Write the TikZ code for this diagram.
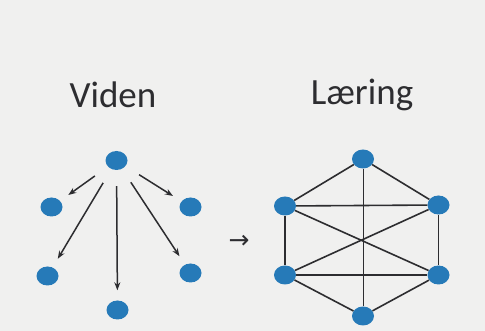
\documentclass[tikz,border=0pt]{standalone}
\usepackage{fontspec}
\setmainfont{Carlito}
\newfontfamily\arrowfont{DejaVu Sans}
\usetikzlibrary{arrows.meta,shapes.geometric}
\definecolor{paper}{RGB}{240,240,239}
\definecolor{dotblue}{RGB}{38,122,184}
\definecolor{ink}{RGB}{45,45,48}
\begin{document}
\begin{tikzpicture}[x=1pt,y=-1pt,
  dot/.style={ellipse,fill=dotblue,minimum width=22pt,minimum height=19pt,inner sep=0pt},
  title/.style={font=\fontsize{37}{40}\selectfont,text=ink},
  push/.style={draw=ink,line width=1.5pt,-{Stealth[length=8pt,width=6pt]},shorten <=16pt,shorten >=10pt},
  link/.style={draw=ink,line width=1.6pt},
  thin/.style={draw=ink,line width=0.8pt}]
  \fill[paper] (0,0) rectangle (485,331);
  \useasboundingbox (0,0) rectangle (485,331);

  % headings
  \node[title] (viden) at (113,95) {Viden};
  \node[title] (laering) at (362,95) {Læring};

  % knowledge: one source pushing to five receivers
  \node[dot] (s)  at (116.5,160.5) {};
  \node[dot] (a1) at (51.5,207) {};
  \node[dot] (a2) at (190.5,207) {};
  \node[dot] (a3) at (47.5,276) {};
  \node[dot] (a4) at (190.5,273) {};
  \node[dot] (a5) at (117.5,310) {};
  \draw[push] (s) -- (a1);
  \draw[push] (s) -- (a3);
  \draw[push] (s) -- (a5);
  \draw[push] (s) -- (a4);
  \draw[push] (s) -- (a2);

  % transition
  \node[font=\arrowfont\fontsize{25}{27}\selectfont,text=ink] (go) at (239,242) {→};

  % learning: fully connected network
  \node[dot] (t)  at (363,159) {};
  \node[dot] (ul) at (285,206) {};
  \node[dot] (ur) at (438.5,205) {};
  \node[dot] (ll) at (285,275) {};
  \node[dot] (lr) at (438.5,275) {};
  \node[dot] (b)  at (363,316) {};
  \draw[thin] (t) -- (b);
  \draw[link] (t) -- (ul);
  \draw[link] (t) -- (ur);
  \draw[link] (ul) -- (ur);
  \draw[link] (ul) -- (ll);
  \draw[link] (ur) -- (lr);
  \draw[link] (ul) -- (lr);
  \draw[link] (ur) -- (ll);
  \draw[link] (ll) -- (lr);
  \draw[link] (ll) -- (b);
  \draw[link] (lr) -- (b);
\end{tikzpicture}
\end{document}
